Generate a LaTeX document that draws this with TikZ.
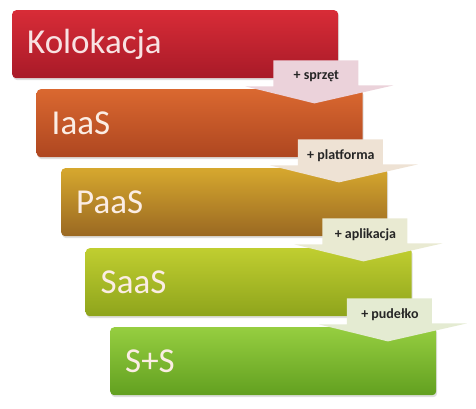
\documentclass[tikz,border=0pt]{standalone}
\usepackage{fontspec}
\setmainfont{Carlito}
\usetikzlibrary{calc,shadows}
\definecolor{r1t}{HTML}{D82C37}\definecolor{r1b}{HTML}{A81A28}
\definecolor{r2t}{HTML}{DA6830}\definecolor{r2b}{HTML}{AE4620}
\definecolor{r3t}{HTML}{D6A82E}\definecolor{r3b}{HTML}{9A6822}
\definecolor{r4t}{HTML}{C0CE30}\definecolor{r4b}{HTML}{8EA41C}
\definecolor{r5t}{HTML}{96CE40}\definecolor{r5b}{HTML}{62A020}
\definecolor{a1}{HTML}{EBD2DA}\definecolor{a2}{HTML}{EEE2D4}
\definecolor{a3}{HTML}{E9EAD2}\definecolor{a4}{HTML}{E4EBD2}
\definecolor{txt1}{HTML}{F8E2E2}\definecolor{txt2}{HTML}{FBEDE4}
\tikzset{
  layerbox/.style={rectangle, rounded corners=4pt, minimum width=326pt, minimum height=68pt,
    inner sep=0pt, anchor=north west, drop shadow={opacity=0.25, shadow xshift=1pt, shadow yshift=-2pt}},
  layertext/.style={anchor=west, font=\fontsize{35}{38}\selectfont, inner sep=0pt},
  steptext/.style={font=\fontsize{14}{16}\selectfont\bfseries, text=black!85, inner sep=0pt}
}
\newcommand{\steparrow}[4]{%
  % #1 box name, #2 fill colour, #3 label text, #4 label node name
  \fill[#2] ($(#1.south east)+(-65,-18)$) -- ($(#1.south east)+(20,-18)$)
    -- ($(#1.south east)+(20,7)$) -- ($(#1.south east)+(55,7)$)
    -- ($(#1.south east)+(-24,25)$) -- ($(#1.south east)+(-93,8)$)
    -- ($(#1.south east)+(-65,8)$) -- cycle;
  \node[steptext] (#4) at ($(#1.south east)+(-22,-2)$) {#3};
}
\begin{document}
\begin{tikzpicture}[x=1pt,y=-1pt]
\useasboundingbox (0,0) rectangle (476,408);
\node[layerbox, top color=r1t, bottom color=r1b] (b1) at (12,10) {};
\node[layerbox, top color=r2t, bottom color=r2b] (b2) at (36.5,89) {};
\node[layerbox, top color=r3t, bottom color=r3b] (b3) at (61,168) {};
\node[layerbox, top color=r4t, bottom color=r4b] (b4) at (85.5,248) {};
\node[layerbox, top color=r5t, bottom color=r5b] (b5) at (110,327) {};
\node[layertext, text=txt1] (t1) at ($(b1.west)+(15,0)$) {Kolokacja};
\node[layertext, text=txt2] (t2) at ($(b2.west)+(15,0)$) {IaaS};
\node[layertext, text=txt2] (t3) at ($(b3.west)+(15,0)$) {PaaS};
\node[layertext, text=txt2] (t4) at ($(b4.west)+(15,0)$) {SaaS};
\node[layertext, text=txt2] (t5) at ($(b5.west)+(15,0)$) {S+S};
\steparrow{b1}{a1}{+ sprzęt}{l1}
\steparrow{b2}{a2}{+ platforma}{l2}
\steparrow{b3}{a3}{+ aplikacja}{l3}
\steparrow{b4}{a4}{+ pudełko}{l4}
\end{tikzpicture}
\end{document}
